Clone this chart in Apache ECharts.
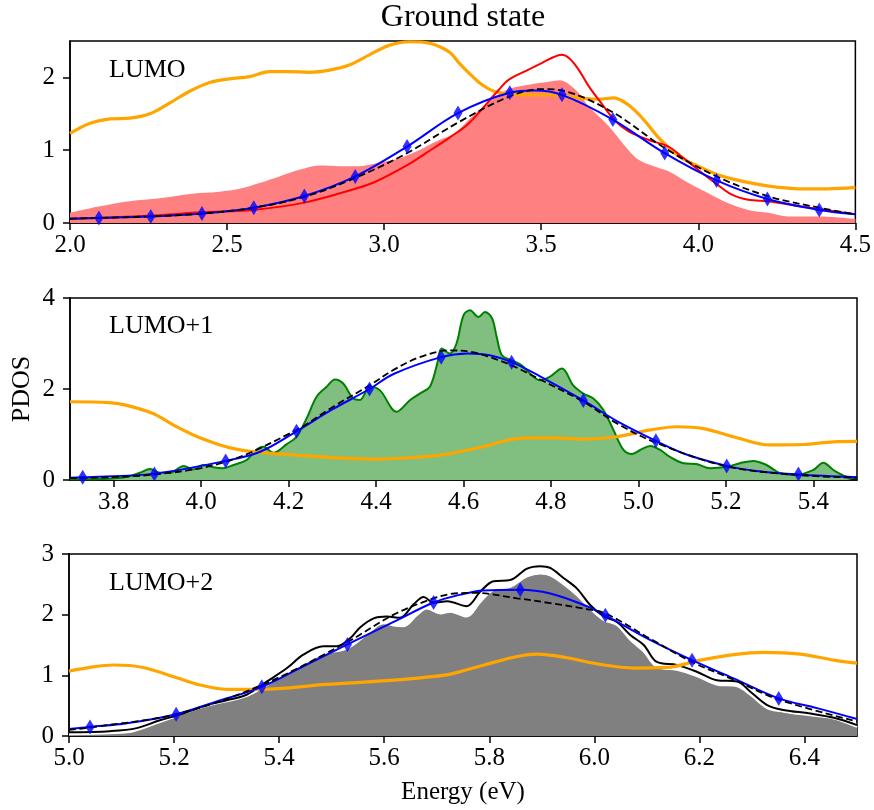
<!DOCTYPE html>
<html><head><meta charset="utf-8">
<script src="https://cdn.jsdelivr.net/npm/echarts@6/dist/echarts.min.js"></script>
<style>html,body{margin:0;padding:0;background:#fff}#c{width:874px;height:810px}</style>
</head><body><div id="c"></div><script>
// ---------- texts ----------
const titleText = 'Ground state';
const yLabelText = 'PDOS';
const xLabelText = 'Energy (eV)';
const panelNames = ['LUMO', 'LUMO+1', 'LUMO+2'];

// ---------- tick labels ----------
const p1XTicks = [2.0, 2.5, 3.0, 3.5, 4.0, 4.5];
const p2XTicks = [3.8, 4.0, 4.2, 4.4, 4.6, 4.8, 5.0, 5.2, 5.4];
const p3XTicks = [5.0, 5.2, 5.4, 5.6, 5.8, 6.0, 6.2, 6.4];
const p1YTicks = [0, 1, 2];
const p2YTicks = [0, 2, 4];
const p3YTicks = [0, 1, 2, 3];
const xRanges = [[2.0, 4.5], [3.7, 5.5], [5.0, 6.5]];
const yMax = [2.5, 4, 3];

// ---------- panel 1 : LUMO ----------
const lumoFill = [[2.0,0.14],[2.095,0.23],[2.19,0.30],[2.286,0.34],[2.381,0.40],[2.476,0.43],[2.54,0.47],[2.603,0.55],[2.667,0.64],[2.73,0.73],[2.794,0.79],[2.857,0.78],[2.921,0.78],[2.984,0.83],[3.048,0.89],[3.111,1.0],[3.175,1.14],[3.207,1.19],[3.238,1.28],[3.27,1.42],[3.334,1.67],[3.397,1.84],[3.461,1.90],[3.524,1.94],[3.56,1.96],[3.59,1.90],[3.62,1.78],[3.651,1.60],[3.715,1.33],[3.778,1.0],[3.81,0.87],[3.858,0.78],[3.905,0.71],[3.969,0.55],[4.032,0.41],[4.096,0.27],[4.159,0.18],[4.223,0.14],[4.286,0.09],[4.382,0.09],[4.5,0.055]];
const lumoLine = [[2.0,0.055],[2.254,0.10],[2.418,0.146],[2.582,0.18],[2.746,0.28],[2.908,0.47],[2.974,0.57],[3.072,0.79],[3.133,0.96],[3.207,1.17],[3.27,1.37],[3.365,1.83],[3.397,1.97],[3.461,2.11],[3.503,2.20],[3.54,2.28],[3.565,2.31],[3.59,2.26],[3.62,2.10],[3.651,1.88],[3.694,1.63],[3.736,1.40],[3.778,1.26],[3.842,1.14],[3.905,1.05],[3.948,0.91],[4.011,0.69],[4.054,0.55],[4.107,0.39],[4.159,0.32],[4.223,0.30],[4.265,0.27],[4.371,0.20],[4.5,0.12]];
const lumoOrange = [[2.0,1.23],[2.064,1.37],[2.127,1.43],[2.19,1.44],[2.254,1.50],[2.318,1.65],[2.381,1.81],[2.445,1.93],[2.508,1.98],[2.572,2.01],[2.635,2.08],[2.699,2.08],[2.762,2.07],[2.826,2.10],[2.889,2.17],[2.953,2.31],[3.016,2.44],[3.08,2.49],[3.143,2.47],[3.207,2.35],[3.238,2.20],[3.27,2.06],[3.302,1.93],[3.334,1.84],[3.365,1.79],[3.429,1.76],[3.524,1.76],[3.62,1.72],[3.683,1.70],[3.731,1.72],[3.778,1.62],[3.826,1.42],[3.874,1.17],[3.937,0.92],[4.0,0.78],[4.064,0.66],[4.128,0.585],[4.191,0.53],[4.255,0.49],[4.318,0.47],[4.413,0.47],[4.5,0.49]];
const lumoBlue = [[2.0,0.06],[2.092,0.07],[2.257,0.09],[2.42,0.13],[2.585,0.21],[2.746,0.37],[2.908,0.64],[3.073,1.05],[3.235,1.51],[3.40,1.79],[3.48,1.82],[3.566,1.76],[3.728,1.42],[3.893,0.96],[4.058,0.585],[4.22,0.33],[4.385,0.18],[4.5,0.12]];
const lumoMarks = [[2.092,0.07],[2.257,0.09],[2.42,0.13],[2.585,0.21],[2.746,0.37],[2.908,0.64],[3.073,1.05],[3.235,1.51],[3.40,1.79],[3.566,1.76],[3.728,1.42],[3.893,0.96],[4.058,0.585],[4.22,0.33],[4.385,0.18]];
const lumoDash = [[2.0,0.06],[2.25,0.09],[2.42,0.13],[2.585,0.21],[2.746,0.36],[2.908,0.62],[3.073,0.96],[3.235,1.38],[3.40,1.74],[3.5,1.84],[3.566,1.82],[3.728,1.52],[3.893,1.03],[4.058,0.64],[4.22,0.37],[4.385,0.21],[4.5,0.12]];

// ---------- panel 2 : LUMO+1 ----------
const lumo1Green = [[3.70,0.015],[3.79,0.03],[3.83,0.07],[3.86,0.16],[3.883,0.24],[3.906,0.16],[3.929,0.16],[3.96,0.31],[3.982,0.23],[4.005,0.33],[4.028,0.28],[4.05,0.26],[4.074,0.33],[4.104,0.44],[4.127,0.67],[4.142,0.73],[4.165,0.60],[4.196,0.79],[4.218,0.95],[4.241,1.35],[4.264,1.83],[4.287,2.05],[4.306,2.21],[4.325,2.12],[4.348,1.79],[4.363,1.76],[4.386,2.05],[4.409,1.97],[4.447,1.50],[4.478,1.76],[4.50,1.90],[4.523,2.05],[4.539,2.52],[4.55,2.89],[4.569,2.78],[4.584,3.0],[4.60,3.62],[4.615,3.73],[4.634,3.58],[4.649,3.69],[4.665,3.56],[4.676,3.14],[4.688,2.74],[4.71,2.63],[4.733,2.52],[4.752,2.34],[4.775,2.19],[4.798,2.27],[4.825,2.45],[4.851,2.08],[4.874,1.90],[4.897,1.79],[4.92,1.54],[4.943,1.10],[4.966,0.66],[4.985,0.57],[5.004,0.66],[5.027,0.75],[5.05,0.66],[5.072,0.51],[5.103,0.37],[5.133,0.35],[5.164,0.26],[5.202,0.29],[5.232,0.37],[5.263,0.42],[5.293,0.33],[5.324,0.15],[5.362,0.11],[5.40,0.22],[5.423,0.38],[5.446,0.22],[5.476,0.07],[5.5,0.04]];
const lumo1Orange = [[3.70,1.72],[3.79,1.70],[3.83,1.64],[3.89,1.46],[3.936,1.21],[3.982,0.99],[4.028,0.82],[4.074,0.69],[4.12,0.62],[4.211,0.55],[4.325,0.48],[4.40,0.46],[4.478,0.49],[4.531,0.53],[4.569,0.58],[4.645,0.73],[4.722,0.91],[4.798,0.93],[4.874,0.90],[4.95,0.95],[5.027,1.10],[5.088,1.17],[5.149,1.13],[5.225,0.93],[5.301,0.77],[5.377,0.78],[5.446,0.84],[5.5,0.85]];
const lumo1Blue = [[3.7,0.05],[3.729,0.06],[3.893,0.14],[4.056,0.42],[4.135,0.62],[4.218,1.07],[4.3,1.55],[4.385,2.0],[4.44,2.33],[4.549,2.70],[4.61,2.78],[4.66,2.74],[4.71,2.59],[4.775,2.28],[4.874,1.75],[4.95,1.3],[5.04,0.86],[5.11,0.56],[5.202,0.31],[5.27,0.20],[5.366,0.12],[5.5,0.06]];
const lumo1Marks = [[3.729,0.06],[3.893,0.13],[4.056,0.42],[4.218,1.07],[4.385,2.0],[4.549,2.70],[4.71,2.59],[4.874,1.75],[5.04,0.86],[5.202,0.31],[5.366,0.13]];
const lumo1Dash = [[3.7,0.04],[3.893,0.12],[4.056,0.40],[4.218,1.10],[4.3,1.60],[4.385,2.08],[4.44,2.42],[4.5,2.70],[4.57,2.85],[4.62,2.81],[4.66,2.70],[4.71,2.52],[4.775,2.21],[4.874,1.72],[4.95,1.25],[5.04,0.82],[5.202,0.30],[5.366,0.11],[5.5,0.05]];

// ---------- panel 3 : LUMO+2 ----------
const lumo2Fill = [[5.0,0.03],[5.11,0.06],[5.173,0.23],[5.256,0.48],[5.338,0.66],[5.377,0.84],[5.415,1.03],[5.453,1.22],[5.484,1.36],[5.522,1.42],[5.541,1.50],[5.567,1.68],[5.599,1.86],[5.618,1.82],[5.637,1.81],[5.662,1.99],[5.681,2.10],[5.707,2.02],[5.726,2.05],[5.757,1.97],[5.783,2.21],[5.808,2.41],[5.84,2.46],[5.872,2.63],[5.897,2.68],[5.916,2.65],[5.942,2.50],[5.967,2.32],[5.992,2.10],[6.018,1.91],[6.043,1.83],[6.069,1.58],[6.094,1.39],[6.119,1.14],[6.157,1.09],[6.195,0.99],[6.233,0.85],[6.272,0.82],[6.297,0.68],[6.329,0.46],[6.36,0.40],[6.411,0.34],[6.456,0.29],[6.5,0.15]];
const lumo2Line = [[5.0,0.06],[5.078,0.08],[5.129,0.13],[5.173,0.26],[5.211,0.35],[5.256,0.49],[5.30,0.59],[5.338,0.68],[5.377,0.90],[5.415,1.12],[5.446,1.34],[5.484,1.48],[5.51,1.48],[5.535,1.61],[5.554,1.79],[5.58,1.94],[5.605,1.97],[5.63,1.95],[5.656,2.17],[5.675,2.29],[5.694,2.20],[5.72,2.22],[5.757,2.14],[5.783,2.38],[5.808,2.55],[5.84,2.57],[5.872,2.76],[5.897,2.80],[5.916,2.77],[5.942,2.60],[5.967,2.43],[5.992,2.16],[6.018,1.97],[6.043,1.88],[6.069,1.66],[6.094,1.50],[6.119,1.22],[6.157,1.17],[6.195,1.06],[6.233,0.92],[6.272,0.90],[6.297,0.73],[6.329,0.51],[6.36,0.43],[6.411,0.37],[6.456,0.30],[6.5,0.18]];
const lumo2Orange = [[5.0,1.07],[5.046,1.14],[5.084,1.17],[5.141,1.13],[5.205,0.96],[5.25,0.84],[5.30,0.77],[5.364,0.77],[5.49,0.85],[5.618,0.92],[5.681,0.97],[5.726,1.02],[5.79,1.17],[5.853,1.31],[5.891,1.35],[5.948,1.29],[6.011,1.18],[6.075,1.12],[6.138,1.13],[6.202,1.25],[6.265,1.34],[6.322,1.38],[6.392,1.35],[6.456,1.25],[6.5,1.20]];
const lumo2Blue = [[5.0,0.115],[5.04,0.15],[5.11,0.21],[5.204,0.36],[5.28,0.565],[5.367,0.81],[5.446,1.15],[5.53,1.51],[5.618,1.88],[5.694,2.20],[5.745,2.33],[5.789,2.40],[5.859,2.41],[5.916,2.35],[5.98,2.16],[6.021,1.99],[6.107,1.58],[6.186,1.25],[6.265,0.95],[6.351,0.62],[6.424,0.46],[6.5,0.28]];
const lumo2Marks = [[5.04,0.15],[5.204,0.36],[5.367,0.81],[5.53,1.51],[5.694,2.20],[5.859,2.41],[6.021,1.99],[6.186,1.25],[6.351,0.62]];
const lumo2Dash = [[5.0,0.10],[5.04,0.14],[5.204,0.36],[5.367,0.84],[5.53,1.55],[5.618,2.0],[5.694,2.27],[5.726,2.34],[5.77,2.36],[5.853,2.27],[5.916,2.19],[5.98,2.10],[6.021,2.02],[6.107,1.60],[6.186,1.22],[6.265,0.93],[6.351,0.60],[6.5,0.24]];

// ---------- styling ----------
const FONT = "'Liberation Serif', 'DejaVu Serif', serif";
const grids = [
  {left: 70, top: 41, width: 787, height: 182},
  {left: 70, top: 298, width: 787, height: 182},
  {left: 69, top: 554, width: 788, height: 182}
].map(g => Object.assign(g, {show: true, borderColor: '#000', borderWidth: 1.5, backgroundColor: 'transparent', containLabel: false}));

const xTicksAll = [p1XTicks, p2XTicks, p3XTicks];
const yTicksAll = [p1YTicks, p2YTicks, p3YTicks];

const xAxes = xTicksAll.map((t, i) => ({
  type: 'value', gridIndex: i, min: xRanges[i][0], max: xRanges[i][1],
  splitLine: {show: false},
  axisLine: {show: true, onZero: false, lineStyle: {color: '#000', width: 1.5}},
  axisTick: {show: true, length: 7, lineStyle: {color: '#000', width: 1.5}, customValues: t},
  axisLabel: {customValues: t, formatter: v => Number(v).toFixed(1), fontFamily: FONT, fontSize: 25, color: '#000', margin: 10}
}));
const yAxes = yTicksAll.map((t, i) => ({
  type: 'value', gridIndex: i, min: 0, max: yMax[i],
  splitLine: {show: false},
  axisLine: {show: true, onZero: false, lineStyle: {color: '#000', width: 1.5}},
  axisTick: {show: true, length: 7, lineStyle: {color: '#000', width: 1.5}, customValues: t},
  axisLabel: {customValues: t, formatter: v => String(Math.round(v)), fontFamily: FONT, fontSize: 25, color: '#000', margin: 15}
}));

function line(i, data, color, width, extra) {
  return Object.assign({
    type: 'line', xAxisIndex: i, yAxisIndex: i, data: data, smooth: 0.35,
    showSymbol: false, symbol: 'none', clip: true,
    lineStyle: {color: color, width: width}, silent: true
  }, extra || {});
}
function area(i, data, fill, edge, edgeW) {
  return line(i, data, edge, edgeW, {
    areaStyle: {color: fill, opacity: 1},
    lineStyle: {color: edge, width: edgeW, opacity: edgeW > 0 ? 1 : 0}
  });
}
function marks(i, data) {
  return {type: 'scatter', xAxisIndex: i, yAxisIndex: i, data: data, symbol: 'diamond',
    symbolSize: [9, 15], itemStyle: {color: '#0000ff'}, silent: true, z: 5};
}
const dashStyle = (i, data) => line(i, data, '#000', 1.8, {lineStyle: {color: '#000', width: 1.8, type: [7, 3.5]}, z: 4});

const series = [
  area(0, lumoFill, '#ff8080', '#ff8080', 0),
  line(0, lumoOrange, '#ffa500', 3.2),
  line(0, lumoLine, '#ff0000', 2),
  line(0, lumoBlue, '#0000ff', 2),
  dashStyle(0, lumoDash),
  marks(0, lumoMarks),

  area(1, lumo1Green, '#80bf80', '#008000', 2),
  line(1, lumo1Orange, '#ffa500', 3.2),
  line(1, lumo1Blue, '#0000ff', 2),
  dashStyle(1, lumo1Dash),
  marks(1, lumo1Marks),

  area(2, lumo2Fill, '#808080', '#ffffff', 2),
  line(2, lumo2Line, '#000000', 2),
  line(2, lumo2Orange, '#ffa500', 3.2),
  line(2, lumo2Blue, '#0000ff', 2),
  dashStyle(2, lumo2Dash),
  marks(2, lumo2Marks)
];

const labelY = [70, 326, 583];
const graphic = [
  {type: 'text', x: 463, y: 18, style: {text: titleText, font: `32px ${FONT}`, fill: '#000', textAlign: 'center', textVerticalAlign: 'middle'}},
  {type: 'text', x: 22, y: 389, rotation: Math.PI / 2, style: {text: yLabelText, font: `26px ${FONT}`, fill: '#000', textAlign: 'center', textVerticalAlign: 'middle'}},
  {type: 'text', x: 463, y: 792, style: {text: xLabelText, font: `25px ${FONT}`, fill: '#000', textAlign: 'center', textVerticalAlign: 'middle'}}
].concat(panelNames.map((n, i) => ({
  type: 'text', x: 109, y: labelY[i], z: 10,
  style: {text: n, font: `26px ${FONT}`, fill: '#000', textAlign: 'left', textVerticalAlign: 'middle'}
})));

const chart = echarts.init(document.getElementById('c'), null, {renderer: 'canvas'});
chart.setOption({
  animation: false,
  backgroundColor: '#fff',
  grid: grids,
  xAxis: xAxes,
  yAxis: yAxes,
  series: series,
  graphic: graphic
});
</script></body></html>
